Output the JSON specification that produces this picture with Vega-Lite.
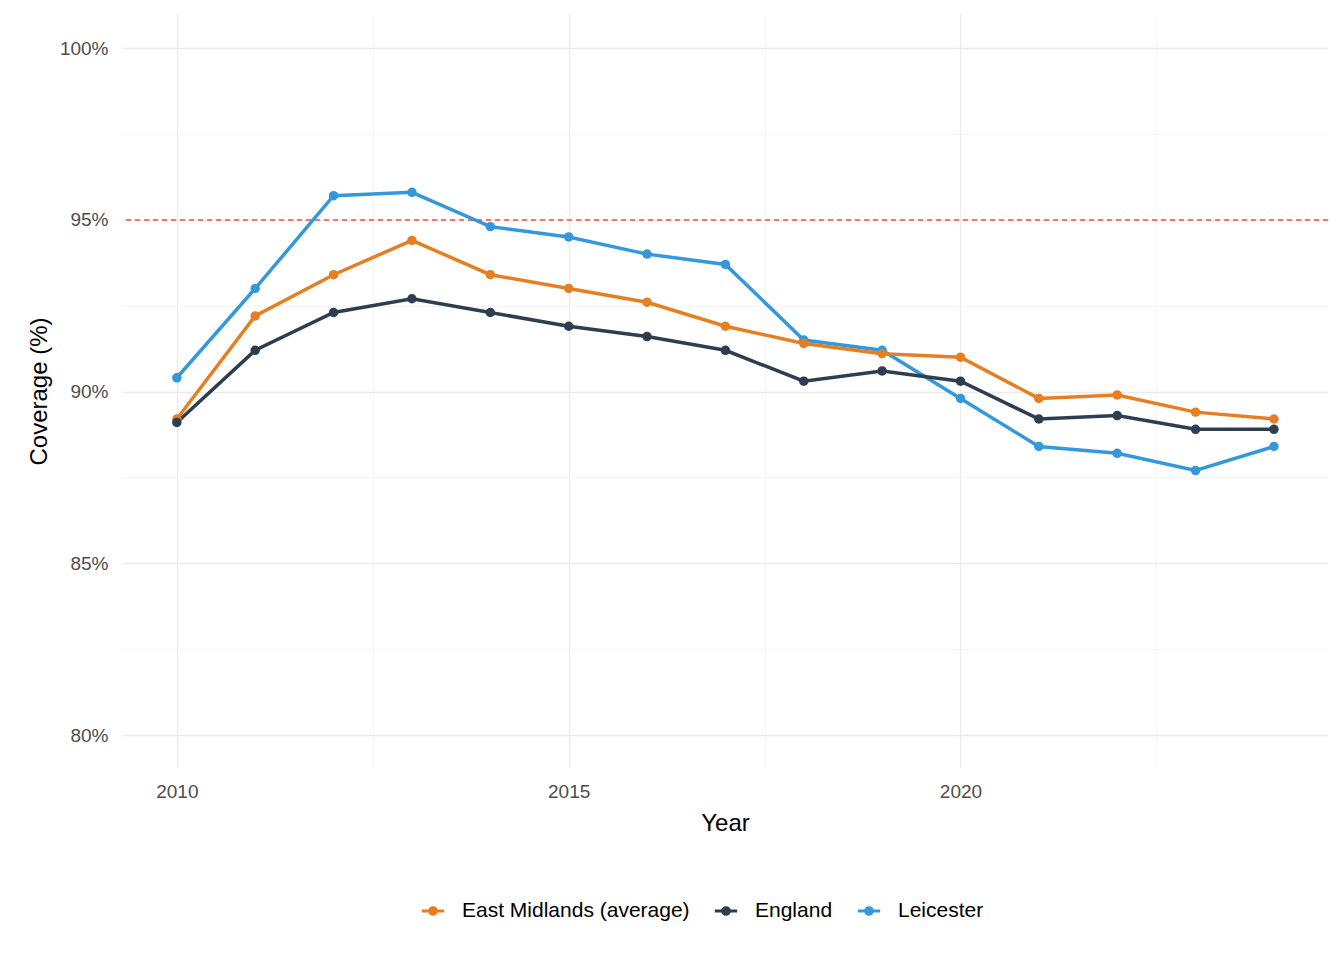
{
  "$schema": "https://vega.github.io/schema/vega-lite/v6.json",
  "width": 1206,
  "height": 754,
  "autosize": {"type": "none"},
  "padding": {"left": 122, "top": 14, "right": 16, "bottom": 192},
  "background": "white",
  "config": {
    "font": "Liberation Sans",
    "view": {"stroke": null},
    "axis": {"domain": false, "ticks": false, "labelColor": "#4d4d4d", "labelFontSize": 19, "titleFontSize": 24, "titleFontWeight": "normal", "titleColor": "black"}
  },
  "data": {"values": [
    {"year": 2010, "area": "Leicester", "v": 90.4},
    {"year": 2011, "area": "Leicester", "v": 93.0},
    {"year": 2012, "area": "Leicester", "v": 95.7},
    {"year": 2013, "area": "Leicester", "v": 95.8},
    {"year": 2014, "area": "Leicester", "v": 94.8},
    {"year": 2015, "area": "Leicester", "v": 94.5},
    {"year": 2016, "area": "Leicester", "v": 94.0},
    {"year": 2017, "area": "Leicester", "v": 93.7},
    {"year": 2018, "area": "Leicester", "v": 91.5},
    {"year": 2019, "area": "Leicester", "v": 91.2},
    {"year": 2020, "area": "Leicester", "v": 89.8},
    {"year": 2021, "area": "Leicester", "v": 88.4},
    {"year": 2022, "area": "Leicester", "v": 88.2},
    {"year": 2023, "area": "Leicester", "v": 87.7},
    {"year": 2024, "area": "Leicester", "v": 88.4},
    {"year": 2010, "area": "East Midlands (average)", "v": 89.2},
    {"year": 2011, "area": "East Midlands (average)", "v": 92.2},
    {"year": 2012, "area": "East Midlands (average)", "v": 93.4},
    {"year": 2013, "area": "East Midlands (average)", "v": 94.4},
    {"year": 2014, "area": "East Midlands (average)", "v": 93.4},
    {"year": 2015, "area": "East Midlands (average)", "v": 93.0},
    {"year": 2016, "area": "East Midlands (average)", "v": 92.6},
    {"year": 2017, "area": "East Midlands (average)", "v": 91.9},
    {"year": 2018, "area": "East Midlands (average)", "v": 91.4},
    {"year": 2019, "area": "East Midlands (average)", "v": 91.1},
    {"year": 2020, "area": "East Midlands (average)", "v": 91.0},
    {"year": 2021, "area": "East Midlands (average)", "v": 89.8},
    {"year": 2022, "area": "East Midlands (average)", "v": 89.9},
    {"year": 2023, "area": "East Midlands (average)", "v": 89.4},
    {"year": 2024, "area": "East Midlands (average)", "v": 89.2},
    {"year": 2010, "area": "England", "v": 89.1},
    {"year": 2011, "area": "England", "v": 91.2},
    {"year": 2012, "area": "England", "v": 92.3},
    {"year": 2013, "area": "England", "v": 92.7},
    {"year": 2014, "area": "England", "v": 92.3},
    {"year": 2015, "area": "England", "v": 91.9},
    {"year": 2016, "area": "England", "v": 91.6},
    {"year": 2017, "area": "England", "v": 91.2},
    {"year": 2018, "area": "England", "v": 90.3},
    {"year": 2019, "area": "England", "v": 90.6},
    {"year": 2020, "area": "England", "v": 90.3},
    {"year": 2021, "area": "England", "v": 89.2},
    {"year": 2022, "area": "England", "v": 89.3},
    {"year": 2023, "area": "England", "v": 88.9},
    {"year": 2024, "area": "England", "v": 88.9}
  ]},
  "encoding": {
    "x": {"field": "year", "type": "quantitative", "title": "Year",
      "scale": {"domain": [2009.3, 2024.69], "nice": false, "zero": false},
      "axis": {"values": [2010, 2012.5, 2015, 2017.5, 2020, 2022.5], "labelExpr": "datum.value % 5 === 0 ? datum.value : ''", "labelPadding": 14, "titlePadding": 10,
        "gridColor": {"condition": {"test": "datum.value % 5 === 0", "value": "#ebebeb"}, "value": "#f3f3f3"},
        "gridWidth": {"condition": {"test": "datum.value % 5 === 0", "value": 1.3}, "value": 0.8}}},
    "y": {"field": "v", "type": "quantitative", "title": "Coverage (%)",
      "scale": {"domain": [79.04, 100.99], "nice": false, "zero": false},
      "axis": {"values": [80, 82.5, 85, 87.5, 90, 92.5, 95, 97.5, 100], "labelExpr": "datum.value % 5 === 0 ? datum.value + '%' : ''", "labelPadding": 14, "titlePadding": 8,
        "gridColor": {"condition": {"test": "datum.value % 5 === 0", "value": "#ebebeb"}, "value": "#f3f3f3"},
        "gridWidth": {"condition": {"test": "datum.value % 5 === 0", "value": 1.3}, "value": 0.8}}},
    "color": {"field": "area", "type": "nominal", "title": null,
      "scale": {"domain": ["East Midlands (average)", "England", "Leicester"], "range": ["#E67E22", "#2C3E50", "#3498DB"]},
      "legend": {"orient": "none", "direction": "horizontal", "legendX": 298, "legendY": 884, "labelFontSize": 21, "labelColor": "black", "labelLimit": 400,
        "symbolType": "M-1,0L1,0M-0.3,0A0.3,0.3 0 1,0 0.3,0A0.3,0.3 0 1,0 -0.3,0", "symbolStrokeWidth": 3, "symbolSize": 500, "columnPadding": 18, "labelOffset": 16}}
  },
  "layer": [
    {"mark": {"type": "rule", "color": "#F8766D", "strokeDash": [5, 4], "strokeWidth": 1.2}, "encoding": {"y": {"datum": 95}, "x": null, "color": null}},
    {"mark": {"type": "line", "strokeWidth": 3.5}},
    {"mark": {"type": "point", "filled": true, "opacity": 1, "size": 90}}
  ]
}
